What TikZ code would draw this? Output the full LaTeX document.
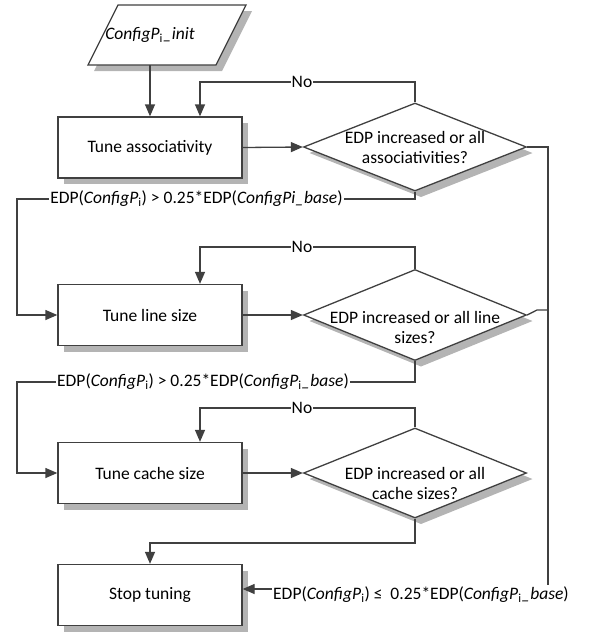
\documentclass[tikz,border=0pt]{standalone}
\usepackage{fontspec}
\setmainfont{Carlito}
\usetikzlibrary{shapes.geometric,arrows.meta}
\definecolor{ln}{HTML}{404040}
\definecolor{shcol}{HTML}{B4B4B4}
\begin{document}
\begin{tikzpicture}[x=1pt,y=-1pt,
  shadowfill/.style={fill=shcol, draw=none},
  base/.style={draw=ln, line width=1.3pt, fill=white},
  box/.style={base, rectangle, minimum width=184pt, minimum height=61pt, inner sep=0pt, font=\fontsize{17.5}{20}\selectfont},
  dia/.style={base, diamond, minimum width=223pt, inner sep=0pt},
  txt/.style={font=\fontsize{17.5}{20}\selectfont, align=center, inner sep=1pt},
  lbl/.style={txt, fill=white},
  conn/.style={draw=ln, line width=1.3pt},
  arr/.style={conn, -{Triangle[length=12pt,width=10pt]}},
]
\useasboundingbox (0,0) rectangle (589,633);

% shadows
\fill[shcol] (124,11) -- (252,11) -- (222,71) -- (94,71) -- cycle;
\fill[shcol] (64,123) rectangle (248,184);
\fill[shcol] (64,290.5) rectangle (248,351.5);
\fill[shcol] (64,448.5) rectangle (248,509.5);
\fill[shcol] (64,570.5) rectangle (248,631.5);
\fill[shcol] (309.5,153) -- (421,109) -- (532.5,153) -- (421,197) -- cycle;
\fill[shcol] (309.5,321) -- (421,275.5) -- (532.5,321) -- (421,366.5) -- cycle;
\fill[shcol] (309.5,479) -- (421,434) -- (532.5,479) -- (421,524) -- cycle;

% start parallelogram
\path[base] (118,5) -- (246,5) -- (216,65) -- (88,65) -- cycle;
\node[txt] (init) at (150,35) {\textit{ConfigP}\textsubscript{i}\textit{\_init}};
\coordinate (initb) at (150,65);

% boxes
\node[box] (b1) at (150,147.5) {Tune associativity};
\node[box] (b2) at (150,315) {Tune line size};
\node[box] (b3) at (150,473) {Tune cache size};
\node[box] (b4) at (150,595) {Stop tuning};

% diamonds
\node[dia, minimum height=88pt] (d1) at (415,147) {};
\node[txt] (t1) at (415,147) {EDP increased or all\\associativities?};
\node[dia, minimum height=91pt] (d2) at (415,315) {};
\node[txt] (t2) at (415,327) {EDP increased or all line\\sizes?};
\node[dia, minimum height=90pt] (d3) at (415,473) {};
\node[txt] (t3) at (415,483) {EDP increased or all\\cache sizes?};

% labels
\node[lbl] (no1) at (302,82) {No};
\node[lbl] (no2) at (302,247) {No};
\node[lbl] (no3) at (302,408) {No};
\node[lbl] (l1) at (196.5,199) {EDP(\textit{ConfigP}\textsubscript{i}) > 0.25*EDP(\textit{ConfigPi\_base})};
\node[lbl] (l2) at (203,382) {EDP(\textit{ConfigP}\textsubscript{i}) > 0.25*EDP(\textit{ConfigP}\textsubscript{i}\textit{\_base})};
\node[lbl] (l3) at (421,595) {EDP(\textit{ConfigP}\textsubscript{i}) ≤\ \ 0.25*EDP(\textit{ConfigP}\textsubscript{i}\textit{\_base})};

% connectors
\draw[arr] (initb) -- (b1.north);
\draw[arr] (b1.east) -- (d1.west);
\draw[arr] (b2.east) -- (d2.west);
\draw[arr] (b3.east) -- (d3.west);

\draw[conn] (d1.north) |- (no1.east);
\draw[arr] (no1.west) -| ([xshift=50pt]b1.north);
\draw[conn] (d2.north) |- (no2.east);
\draw[arr] (no2.west) -| ([xshift=50pt]b2.north);
\draw[conn] (d3.north) |- (no3.east);
\draw[arr] (no3.west) -| ([xshift=50pt]b3.north);

\draw[conn] (d1.south) |- (l1.east);
\draw[arr] (l1.west) -- (17,199) |- (b2.west);
\draw[conn] (d2.south) |- (l2.east);
\draw[arr] (l2.west) -- (17,382) |- (b3.west);

\draw[arr] (d3.south) -- (415,543) -| (b4.north);

\draw[conn] (d1.east) -- (548,147) -- (548,585);
\draw[conn] (d2.east) -- (537,310) -- (548,310);
\draw[arr] ([yshift=6pt]l3.west) -- ([yshift=6pt]l3.west -| b4.east);
\end{tikzpicture}
\end{document}
